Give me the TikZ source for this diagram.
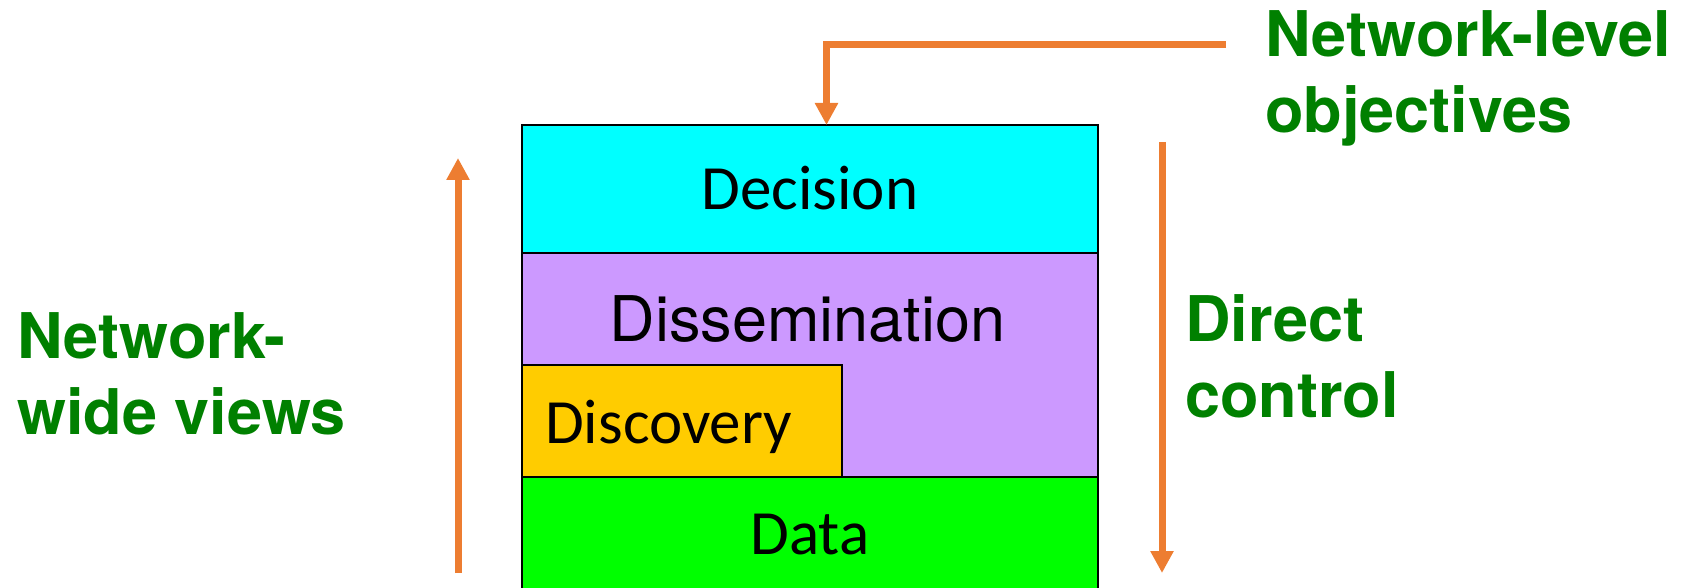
\documentclass[tikz,border=0pt]{standalone}
\usepackage{fontspec}
\newfontfamily\heros{TeX Gyre Heros}
\newfontfamily\carlito{Carlito}
\usetikzlibrary{arrows.meta}
\definecolor{orng}{HTML}{ED7D31}
\definecolor{grn}{HTML}{008000}
\definecolor{cyanf}{HTML}{00FFFF}
\definecolor{purp}{HTML}{CC99FF}
\definecolor{yel}{HTML}{FFCC00}
\definecolor{limef}{HTML}{00FF00}
\begin{document}
\begin{tikzpicture}[x=1pt,y=-1pt,
  layer/.style={draw=black, line width=1.5pt, rectangle, inner sep=0pt, outer sep=0pt},
  lbl/.style={inner sep=0pt, font=\carlito\fontsize{63}{76}\selectfont},
  lblh/.style={inner sep=0pt, font=\heros\fontsize{63}{76}\selectfont},
  note/.style={inner sep=0pt, align=left, text=grn, font=\heros\bfseries\fontsize{63}{76}\selectfont},
  flow/.style={draw=orng, line width=7pt, -{Triangle[width=22pt,length=22pt]}, line join=miter}]
\clip (0,0) rectangle (1699,588);
% layers
\node[layer, fill=cyanf, minimum width=576pt, minimum height=128pt, lbl, text height=41pt, text depth=0pt] (dec) at (810,189) {Decision};
\node[layer, fill=purp, minimum width=576pt, minimum height=224pt] (diss) at (810,365) {};
\node[lblh, anchor=base] (disstext) at (807.5,341.5) {Dissemination};
\node[layer, fill=yel, minimum width=320pt, minimum height=112pt] (disc) at (682,421) {};
\node[lbl, anchor=base west] (disctext) at (545,443) {Discovery};
\node[layer, fill=limef, minimum width=576pt, minimum height=115pt, lbl, text height=39pt, text depth=0pt] (data) at (810,534.5) {Data};
% labels (base anchor = baseline of the last line)
\node[note, anchor=base west] (nlo) at (1265,133) {Network-level\\objectives};
\node[note, anchor=base west] (dc) at (1185,417) {Direct\\control};
\node[note, anchor=base west] (nwv) at (17,434) {Network-\\wide views};
% arrows
\coordinate (objsrc) at (1226,45);
\draw[flow] (objsrc) -| ([xshift=16.5pt]dec.north);
\coordinate (dctop) at (1162,142);
\coordinate (dcbot) at (1162,573);
\draw[flow] (dctop) -- (dcbot);
\coordinate (nwbot) at (458,573);
\coordinate (nwtop) at (458,158);
\draw[flow] (nwbot) -- (nwtop);
\end{tikzpicture}
\end{document}
